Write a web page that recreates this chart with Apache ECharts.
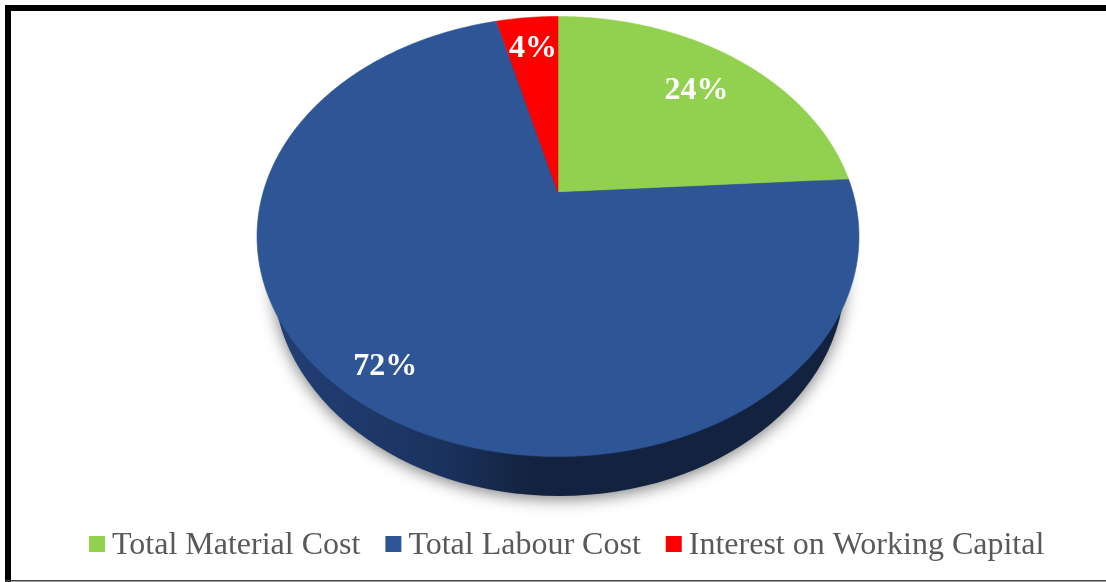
<!DOCTYPE html>
<html>
<head>
<meta charset="utf-8">
<style>
  html, body { margin: 0; padding: 0; background: #fff; }
  #chart { width: 1106px; height: 582px; }
</style>
<script src="https://cdn.jsdelivr.net/npm/echarts@6/dist/echarts.min.js"></script>
</head>
<body>
<div id="chart"></div>
<script>
const categories = ['Total Material Cost', 'Total Labour Cost', 'Interest on Working Capital'];
const shares = [24, 72, 4];
const colors = ['#92D050', '#2E5596', '#FF0000'];
const labelReach = [0.78, 0.84, 0.84];

// Tilted disc: a circle seen in perspective, so the apex sits above the ellipse centre.
const disc = { x: 558, y: 192.5, a: 294.9, b: 211.2, k: 0.2 };
// Lower rim of the disc, seen below the top face.
const rim = { x: 559, y: 276, a: 286, b: 220 };

function project(deg, reach) {
  const t = deg * Math.PI / 180;
  const u = Math.sin(t), v = -Math.cos(t);
  const d = 1 - disc.k * v;
  return [disc.x + reach * disc.a * u / d, disc.y + reach * disc.b * v / d];
}

function renderSlice(index) {
  return function (params, api) {
    const total = shares.reduce((s, v) => s + v, 0);
    const before = shares.slice(0, index).reduce((s, v) => s + v, 0);
    const start = before / total * 360;
    const end = start + api.value(0) / total * 360;
    const points = [[disc.x, disc.y]];
    for (let a = start; a < end; a += 0.5) points.push(project(a, 1));
    points.push(project(end, 1));
    const at = project((start + end) / 2, labelReach[index]);
    return {
      type: 'group',
      children: [
        {
          type: 'polygon',
          shape: { points },
          style: { fill: colors[index], stroke: colors[index], lineWidth: 0.6 }
        },
        {
          type: 'text',
          x: at[0] + 1,
          y: at[1] + 3.5,
          z2: 10,
          style: {
            text: api.value(0) + '%',
            fill: '#fff',
            font: 'bold 32px "Liberation Serif"',
            align: 'center',
            verticalAlign: 'middle'
          }
        }
      ]
    };
  };
}

function renderRim() {
  return {
    type: 'ellipse',
    shape: { cx: rim.x, cy: rim.y, rx: rim.a, ry: rim.b },
    style: {
      fill: new echarts.graphic.LinearGradient(0, 0, 1, 0, [
        { offset: 0, color: '#223F75' },
        { offset: 0.3, color: '#1B325F' },
        { offset: 0.45, color: '#13233F' },
        { offset: 1, color: '#13233F' }
      ]),
      shadowBlur: 16,
      shadowColor: 'rgba(0,0,0,0.5)',
      shadowOffsetX: 0,
      shadowOffsetY: 3
    }
  };
}

const chart = echarts.init(document.getElementById('chart'), null, { renderer: 'canvas' });

chart.setOption({
  animation: false,
  backgroundColor: '#fff',
  legend: {
    data: categories,
    left: 84,
    top: 525,
    icon: 'rect',
    itemWidth: 16,
    itemHeight: 16,
    itemGap: 25,
    selectedMode: false,
    formatter: name => '{entry|' + name + '}',
    textStyle: {
      color: '#595959',
      fontFamily: 'Liberation Serif',
      fontSize: 32,
      rich: {
        entry: {
          color: '#595959',
          fontFamily: 'Liberation Serif',
          fontSize: 32,
          padding: [4, 0, 0, 2]
        }
      }
    }
  },
  series: [
    {
      type: 'custom',
      name: 'rim',
      coordinateSystem: 'none',
      silent: true,
      data: [[1]],
      renderItem: renderRim,
      z: 1
    },
    ...categories.map((name, i) => ({
      type: 'custom',
      name,
      coordinateSystem: 'none',
      silent: true,
      itemStyle: { color: colors[i] },
      data: [[shares[i]]],
      renderItem: renderSlice(i),
      z: 2
    }))
  ],
  graphic: [
    { type: 'rect', shape: { x: 5, y: 5, width: 1101, height: 6 }, style: { fill: '#000' } },
    { type: 'rect', shape: { x: 5, y: 5, width: 6, height: 577 }, style: { fill: '#000' } },
    { type: 'rect', shape: { x: 5, y: 580, width: 1101, height: 1.5 }, style: { fill: '#444' } }
  ]
});
</script>
</body>
</html>
